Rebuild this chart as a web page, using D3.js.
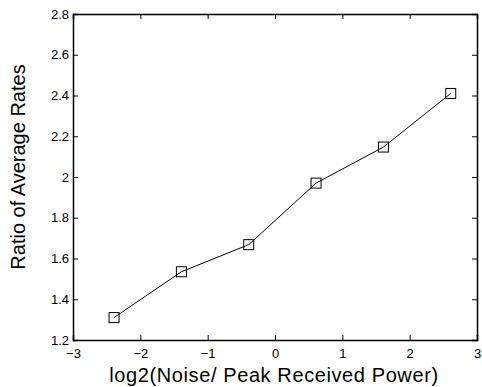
<!DOCTYPE html>
<html lang="en">
	<head>
		<meta charset="utf-8">
		<title>Ratio of Average Rates</title>
		<script src="https://cdn.jsdelivr.net/npm/d3@7"></script>
		<style>
		body{ margin:0; background:#fff; }
		svg{ display:block; }
		text{ font-family: "Liberation Sans", Arial, sans-serif; }
		</style>
	</head>
	<body>
		<div id="chart"></div>
		<script>
			// data
			var xVals = [-2.39, -1.39, -0.39, 0.61, 1.61, 2.61];
			var yVals = [1.31, 1.535, 1.668, 1.97, 2.147, 2.41];
			var xTicks = [-3, -2, -1, 0, 1, 2, 3];
			var yTicks = [1.2, 1.4, 1.6, 1.8, 2, 2.2, 2.4, 2.6, 2.8];

			var w = 482, h = 387;
			var m = {left: 73, right: 5, top: 14, bottom: 47};

			var svg = d3.select("#chart").append("svg")
						.attr("width", w).attr("height", h);

			var x = d3.scaleLinear().domain([-3, 3]).range([m.left, w - m.right]);
			var y = d3.scaleLinear().domain([1.2, 2.8]).range([h - m.bottom, m.top]);

			var tl = 5;
			// bottom axis
			var gx = svg.append("g").attr("transform", "translate(0," + (h - m.bottom) + ")")
				.call(d3.axisBottom(x).tickValues(xTicks).tickSize(-tl).tickPadding(9)
					.tickFormat(function(d){ return d < 0 ? "\u2212" + Math.abs(d) : d; }));
			// top ticks
			var gt = svg.append("g").attr("transform", "translate(0," + m.top + ")")
				.call(d3.axisTop(x).tickValues(xTicks).tickSize(-tl).tickFormat(""));
			// left axis
			var gy = svg.append("g").attr("transform", "translate(" + m.left + ",0)")
				.call(d3.axisLeft(y).tickValues(yTicks).tickSize(-tl).tickPadding(4)
					.tickFormat(d3.format("")));
			// right ticks
			var gr = svg.append("g").attr("transform", "translate(" + (w - m.right) + ",0)")
				.call(d3.axisRight(y).tickValues(yTicks).tickSize(-tl).tickFormat(""));

			[gx, gt, gy, gr].forEach(function(g){
				g.select(".domain").attr("stroke", "#000").attr("stroke-width", 1.5);
				g.selectAll(".tick line").attr("stroke", "#000");
				g.selectAll("text").attr("font-size", "13px").attr("fill", "#000")
					.style("font-family", "'Liberation Sans', Arial, sans-serif");
			});

			var line = d3.line()
				.x(function(d, i){ return x(xVals[i]); })
				.y(function(d){ return y(d); });

			svg.append("path").datum(yVals)
				.attr("d", line)
				.attr("fill", "none")
				.attr("stroke", "#000")
				.attr("stroke-width", 1);

			var s = 10;
			svg.selectAll("rect.mk").data(yVals).enter().append("rect")
				.attr("class", "mk")
				.attr("x", function(d, i){ return x(xVals[i]) - s/2; })
				.attr("y", function(d){ return y(d) - s/2; })
				.attr("width", s).attr("height", s)
				.attr("fill", "none").attr("stroke", "#000").attr("stroke-width", 1);

			// axis labels
			svg.append("text")
				.attr("x", 274).attr("y", 382)
				.attr("text-anchor", "middle")
				.attr("font-size", "20px")
				.style("letter-spacing", "0.6px")
				.text("log2(Noise/ Peak Received Power)");

			svg.append("text")
				.attr("transform", "translate(25,167) rotate(-90)")
				.attr("text-anchor", "middle")
				.attr("font-size", "20px")
				.text("Ratio of Average Rates");
		</script>
	</body>
</html>
